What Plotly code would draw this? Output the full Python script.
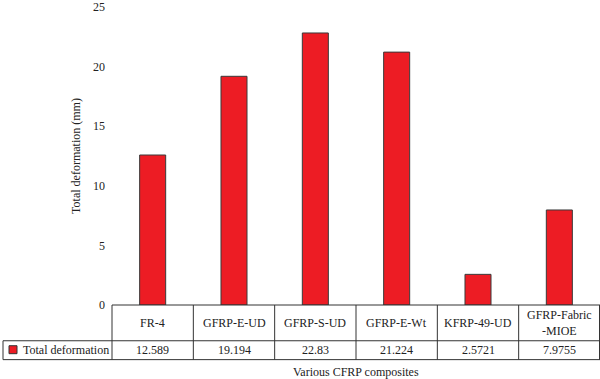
import plotly.graph_objects as go

categories = ["FR-4", "GFRP-E-UD", "GFRP-S-UD", "GFRP-E-Wt", "KFRP-49-UD", "GFRP-Fabric<br>-MIOE"]
values = [12.589, 19.194, 22.83, 21.224, 2.5721, 7.9755]
value_labels = ["12.589", "19.194", "22.83", "21.224", "2.5721", "7.9755"]
series_name = "Total deformation"
y_ticks = [0, 5, 10, 15, 20, 25]

W, H = 600, 379
L, R, T, B = 112, 0, 5, 74
pw, ph = W - L - R, H - T - B
FONT = "Liberation Serif"
RED = "#ED1C24"

def px_x(px):
    return (px - L) / pw

def px_y(py):
    return (H - B - py) / ph

fig = go.Figure()
fig.add_trace(go.Bar(
    x=list(range(len(categories))), y=values, name=series_name,
    marker=dict(color=RED, line=dict(color="#3a3a3a", width=1)),
    width=0.32, showlegend=False,
))

shapes = []
n = len(categories)
line = dict(color="#333333", width=1)
top, mid, bot = px_y(305), px_y(341), px_y(360)
left_leg = px_x(3)
shapes.append(dict(type="line", xref="paper", yref="paper", x0=0, x1=1, y0=top, y1=top, line=line))
shapes.append(dict(type="line", xref="paper", yref="paper", x0=left_leg, x1=1, y0=mid, y1=mid, line=line))
shapes.append(dict(type="line", xref="paper", yref="paper", x0=left_leg, x1=1, y0=bot, y1=bot, line=line))
for i in range(n + 1):
    xv = i / n
    if i == n:
        xv = px_x(599.5)
    shapes.append(dict(type="line", xref="paper", yref="paper", x0=xv, x1=xv, y0=top, y1=bot, line=line))
shapes.append(dict(type="line", xref="paper", yref="paper", x0=left_leg, x1=left_leg, y0=mid, y1=bot, line=line))
shapes.append(dict(type="rect", xref="paper", yref="paper", x0=px_x(9), x1=px_x(17),
                   y0=px_y(354), y1=px_y(346), fillcolor=RED, line=dict(color="#333333", width=1)))

annotations = []
for i, (c, v) in enumerate(zip(categories, value_labels)):
    xc = (i + 0.5) / n
    annotations.append(dict(x=xc, y=px_y(323), xref="paper", yref="paper", text=c, showarrow=False,
                            font=dict(family=FONT, size=12, color="#222"), xanchor="center", yanchor="middle"))
    annotations.append(dict(x=xc, y=px_y(350.5), xref="paper", yref="paper", text=v, showarrow=False,
                            font=dict(family=FONT, size=12, color="#222"), xanchor="center", yanchor="middle"))
annotations.append(dict(x=px_x(21), y=px_y(350.5), xref="paper", yref="paper", text=series_name, showarrow=False,
                        font=dict(family=FONT, size=12, color="#222"), xanchor="left", yanchor="middle"))
annotations.append(dict(x=px_x(356), y=px_y(372), xref="paper", yref="paper", text="Various CFRP composites",
                        showarrow=False, font=dict(family=FONT, size=12, color="#222"),
                        xanchor="center", yanchor="middle"))

fig.update_layout(
    width=W, height=H,
    margin=dict(l=L, r=R, t=T, b=B),
    paper_bgcolor="white", plot_bgcolor="white",
    font=dict(family=FONT, size=12, color="#222"),
    xaxis=dict(range=[-0.5, n - 0.5], showticklabels=False, showgrid=False, zeroline=False,
               showline=False, ticks=""),
    yaxis=dict(range=[0, 25.01], tickvals=y_ticks, showgrid=False, zeroline=False, showline=False,
               ticks="", ticklabelstandoff=6, ticklabeloverflow="allow",
               title=dict(text="Total deformation (mm)", font=dict(family=FONT, size=12), standoff=9)),
    shapes=shapes, annotations=annotations,
)

fig.write_html("out.html", config={"displayModeBar": False},
               post_script="document.body.style.margin='0';document.body.style.overflow='hidden';")
